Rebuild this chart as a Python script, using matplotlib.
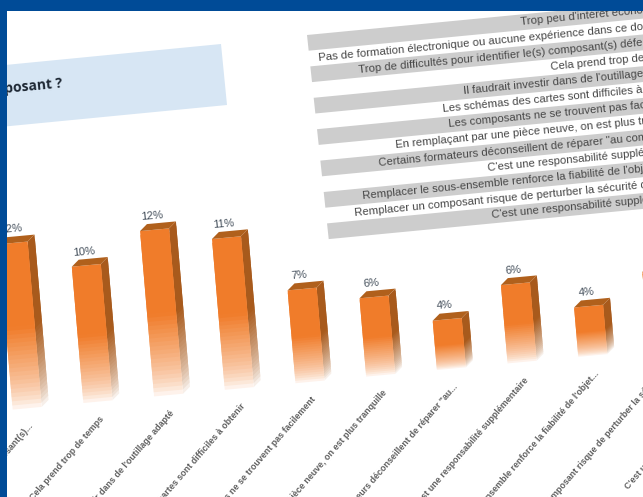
import matplotlib
matplotlib.use("Agg")
import matplotlib.pyplot as plt
import numpy as np
from matplotlib.collections import PolyCollection
from matplotlib.patches import Polygon, Rectangle
from matplotlib.transforms import Affine2D

# Table rows of the slide
table_rows = [
    "Trop peu d'intérêt économique",
    "Pas de formation électronique ou aucune expérience dans ce domaine",
    "Trop de difficultés pour identifier le(s) composant(s) défectueux",
    "Cela prend trop de temps",
    "Il faudrait investir dans de l'outillage adapté",
    "Les schémas des cartes sont difficiles à obtenir",
    "Les composants ne se trouvent pas facilement",
    "En remplaçant par une pièce neuve, on est plus tranquille",
    "Certains formateurs déconseillent de réparer \"au composant\"",
    "C'est une responsabilité supplémentaire",
    "Remplacer le sous-ensemble renforce la fiabilité de l'objet",
    "Remplacer un composant risque de perturber la sécurité de l'objet",
    "C'est une responsabilité supplémentaire",
]

# Bars
categories = [
    "Trop de difficultés pour identifier le(s) composant(s)...",
    "Cela prend trop de temps",
    "Il faudrait investir dans de l'outillage adapté",
    "Les schémas des cartes sont difficiles à obtenir",
    "Les composants ne se trouvent pas facilement",
    "En remplaçant par une pièce neuve, on est plus tranquille",
    "Certains formateurs déconseillent de réparer \"au...",
    "C'est une responsabilité supplémentaire",
    "Remplacer le sous-ensemble renforce la fiabilité de l'objet...",
    "Remplacer un composant risque de perturber la sécurité...",
    "C'est une responsabilité supplémentaire",
]
values = [12, 10, 12, 11, 7, 6, 4, 6, 4, 6, 5]

# Text starts along the table rows
row_starts = [213, 9, 47, 238, 149, 127, 131, 76, 57, 165, 38, 28, 164]

BASE = 0.6
BAR_W = 0.41
DEPTH_X = 0.105
DEPTH_V = 0.435
FRONT = np.array([240, 124, 42]) / 255
SIDE = np.array([168, 90, 28]) / 255
TOP = "#b0601c"
TEXT_FONT = ["Liberation Sans", "DejaVu Sans"]

W, H = 643, 497
fig = plt.figure(figsize=(W / 100, H / 100), dpi=100)
ax = fig.add_axes([0, 0, 1, 1])
ax.set_xlim(0, W)
ax.set_ylim(H, 0)
ax.axis("off")

# Tilted slide planes: (bar index, percent) and (distance along row, row number)
bar_trans = Affine2D.from_values(70.7, -6.6, -1.2325, -14.5, 12.7 + 1.2325 * BASE, 409.6 + 14.5 * BASE) + ax.transData
table_trans = Affine2D.from_values(1, -0.096, 1.67, 15.7, 307, 35) + ax.transData

# Grey stripes behind the table
for r in range(0, len(table_rows), 2):
    ax.add_patch(Polygon([(0, r), (420, r), (420, r + 1), (0, r + 1)], closed=True,
                         facecolor="#cdcdcd", edgecolor="none", transform=table_trans, zorder=1))
for r, (row, start) in enumerate(zip(table_rows, row_starts)):
    ax.text(start, r + 0.5, row, transform=table_trans, rotation=5.5, rotation_mode="anchor",
            ha="left", va="center", fontsize=8.2, color="#474747", family=TEXT_FONT, zorder=2)

# Question banner
ax.add_patch(Polygon([(0, 65.5), (221, 44), (227, 105), (0, 127)], closed=True,
                     facecolor="#d7e6f4", edgecolor="none", zorder=1))
ax.text(4, 89, "posant ?", rotation=5.5, rotation_mode="anchor", ha="left", va="center",
        fontsize=10, fontweight="bold", color="#1d2733", family=["Open Sans", "DejaVu Sans"], zorder=2)


def fade(color, t):
    # solid down to the middle of the bar, then towards white
    k = np.clip((t - 0.48) / 0.52, 0, 1)
    k = 0.78 * k + 0.22 * k ** 6
    return color * (1 - k) + np.ones(3) * k


for i, v in enumerate(values):
    levels = np.linspace(v, BASE, 41)
    front, side, colors_f, colors_s = [], [], [], []
    # bottom slices first, each one runs under the slice above it
    for j in range(39, -1, -1):
        hi, lo = levels[j], levels[min(j + 2, 40)]
        front.append([(i, hi), (i + BAR_W, hi), (i + BAR_W, lo), (i, lo)])
        side.append([(i + BAR_W, hi), (i + BAR_W + DEPTH_X, hi + DEPTH_V),
                     (i + BAR_W + DEPTH_X, lo + DEPTH_V), (i + BAR_W, lo)])
        colors_f.append(fade(FRONT, j / 39))
        colors_s.append(fade(SIDE, j / 39))
    ax.add_collection(PolyCollection(side, facecolors=colors_s, edgecolors="none",
                                     transform=bar_trans, zorder=3))
    ax.add_collection(PolyCollection(front, facecolors=colors_f, edgecolors="none",
                                     transform=bar_trans, zorder=3))
    ax.add_patch(Polygon([(i, v), (i + BAR_W, v), (i + BAR_W + DEPTH_X, v + DEPTH_V), (i + DEPTH_X, v + DEPTH_V)],
                         closed=True, facecolor=TOP, edgecolor="none", transform=bar_trans, zorder=3))
    ax.annotate(f"{v}%", xy=(i, v), xycoords=bar_trans, xytext=(12, 15), textcoords="offset pixels",
                rotation=5, rotation_mode="anchor", ha="center", va="center",
                fontsize=8, color="#45505c", family=TEXT_FONT, annotation_clip=False, zorder=4)
    ax.annotate(categories[i], xy=(i, BASE), xycoords=bar_trans, xytext=(19, -15), textcoords="offset pixels",
                rotation=49, rotation_mode="anchor", ha="right", va="center",
                fontsize=6.4, fontweight="bold", color="#5f5f5f", family=TEXT_FONT,
                annotation_clip=False, zorder=2)

# Blue slide frame
ax.add_patch(Rectangle((0, 0), W, 11, facecolor="#004b97", edgecolor="none", zorder=10))
ax.add_patch(Rectangle((0, 0), 7, H, facecolor="#004b97", edgecolor="none", zorder=10))

fig.savefig("out.png", dpi=100)
